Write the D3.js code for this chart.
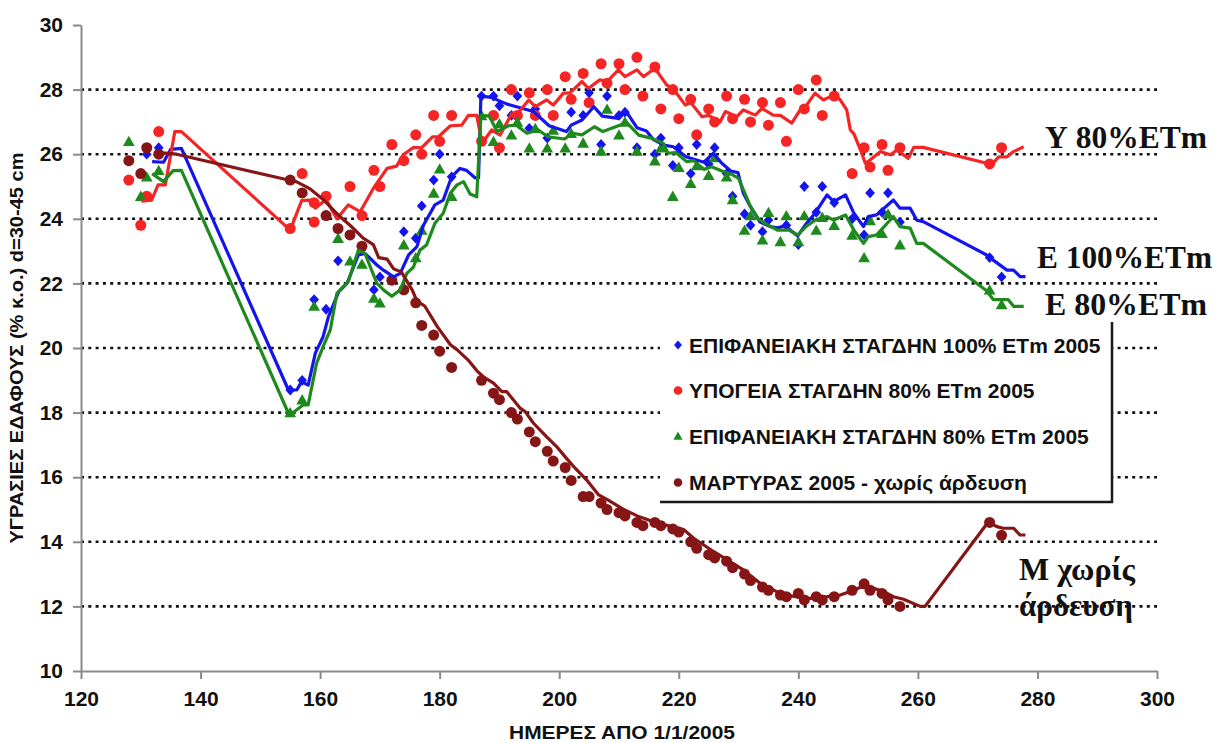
<!DOCTYPE html>
<html><head><meta charset="utf-8">
<script src="https://cdn.jsdelivr.net/npm/d3@7/dist/d3.min.js"></script>
<style>
html,body{margin:0;padding:0;background:#fff;}
svg{display:block;font-family:"Liberation Sans",Arial,sans-serif;}
</style></head><body>
<svg id="chart" width="1216" height="743"></svg>
<script>
// ---------- data ----------
const xTicks = [120,140,160,180,200,220,240,260,280,300];
const yTicks = [10,12,14,16,18,20,22,24,26,28,30];
const gridValues = [12,14,16,18,20,22,24,26,28];
const seriesNames = ["ΕΠΙΦΑΝΕΙΑΚΗ ΣΤΑΓΔΗΝ 100% ΕΤm 2005","ΥΠΟΓΕΙΑ ΣΤΑΓΔΗΝ 80% ΕΤm 2005","ΕΠΙΦΑΝΕΙΑΚΗ ΣΤΑΓΔΗΝ 80% ΕΤm 2005","ΜΑΡΤΥΡΑΣ 2005 - χωρίς άρδευση"];
const endLabels = ["Υ 80%ΕΤm","Ε 100%ΕΤm","Ε 80%ΕΤm","Μ χωρίς","άρδευση"];
const xTitle = "ΗΜΕΡΕΣ ΑΠΟ 1/1/2005";
const yTitle = "ΥΓΡΑΣΙΕΣ ΕΔΑΦΟΥΣ (% κ.ο.) d=30-45 cm";

const blueDays = [131,133,155,157,159,161,163,169,170,174,176,177,179,180,182,187,189,190,192,193,195,196,198,202,204,205,207,208,210,211,213,216,217,219,220,222,223,225,226,228,229,231,232,234,235,238,240,241,243,244,246,249,251,252,254,255,257,272,274];
const blueValues = [26.0,26.2,18.7,19.0,21.5,21.2,22.7,21.8,22.2,23.6,23.4,24.4,25.2,26.0,25.3,27.8,27.8,27.5,27.2,27.8,26.8,27.4,26.5,27.3,27.2,27.9,26.3,27.8,27.2,27.3,26.2,26.0,26.5,25.65,26.2,25.4,26.3,25.7,26.2,25.4,24.7,24.15,23.8,23.6,23.96,23.8,23.2,25.0,24.2,25.0,24.5,24.0,23.5,24.8,24.2,24.8,23.9,22.8,22.2];

const redDays = [128,130,131,133,155,157,159,159,161,165,167,169,170,172,174,176,177,179,180,182,187,189,190,192,193,195,196,198,199,201,202,204,205,207,208,210,211,213,214,216,217,219,220,222,223,225,226,228,229,231,232,234,235,237,238,240,241,243,244,246,249,251,252,254,255,257,272,274];
const redValues = [25.2,23.8,24.7,26.7,23.7,25.4,24.5,23.9,24.7,25.0,24.1,25.5,25.0,26.3,25.8,26.6,26.0,27.2,26.4,27.2,26.4,27.2,26.2,28.0,27.2,27.9,27.2,28.0,27.2,28.4,27.7,28.5,27.6,28.8,28.2,28.8,28.0,29.0,27.8,28.7,27.4,28.0,27.1,27.7,26.6,27.4,27.0,27.8,27.1,27.7,27.0,27.6,26.9,27.6,26.4,28.0,27.4,28.3,27.2,27.8,25.4,26.2,25.6,26.3,25.5,26.2,25.7,26.2];

const greenDays = [128,130,131,133,155,157,159,163,165,167,169,170,174,176,177,179,180,182,187,189,190,192,193,195,196,198,199,201,202,204,207,208,210,211,213,216,217,219,220,222,223,225,226,228,229,231,232,234,235,237,238,240,241,243,244,246,249,251,252,254,255,257,272,274];
const greenValues = [26.4,24.7,25.3,25.5,18.0,18.4,21.3,23.4,22.7,22.6,21.55,21.4,23.2,22.8,23.65,24.8,25.55,24.7,27.2,26.4,26.95,26.6,27.0,26.2,26.8,26.2,26.75,26.2,26.65,26.35,26.1,27.4,26.6,27.0,26.1,25.8,26.2,24.7,25.6,25.1,25.65,25.35,25.9,25.3,24.6,23.65,24.1,23.35,24.2,23.3,24.1,23.3,24.1,23.65,24.05,23.8,23.5,22.8,23.95,23.55,24.15,23.2,21.8,21.35];

const brownDays = [128,130,131,133,155,157,161,163,165,167,172,174,176,177,179,180,182,187,189,190,192,193,195,196,198,199,201,202,204,205,207,208,210,211,213,214,216,217,219,220,222,223,225,226,228,229,231,232,234,235,237,238,240,241,243,244,246,249,251,252,254,255,257,272,274];
const brownValues = [25.8,25.4,26.2,26.0,25.2,24.8,24.1,23.7,23.5,23.15,22.1,21.8,21.4,20.7,20.4,19.9,19.4,19.0,18.6,18.4,18.0,17.8,17.4,17.1,16.8,16.5,16.3,15.9,15.4,15.4,15.2,15.0,14.9,14.8,14.6,14.5,14.6,14.5,14.4,14.3,14.0,13.8,13.6,13.5,13.4,13.2,13.0,12.8,12.6,12.5,12.35,12.3,12.4,12.2,12.3,12.2,12.3,12.5,12.7,12.5,12.4,12.2,12.0,14.6,14.2];

// smoothed lines: [day, value]
const blueLine = [[131.9,25.77],[133.8,25.75],[135,26.15],[136.8,26.18],[154.7,18.7],[156.1,18.7],[156.9,18.96],[158,18.85],[159.2,19.84],[160.5,20.35],[161.4,20.97],[163.1,21.74],[164.5,22.0],[166.4,22.88],[167.5,22.93],[169.5,22.57],[170.6,22.41],[172.3,22.2],[173.4,22.31],[174.8,22.88],[176.2,23.14],[177.3,23.81],[179.2,24.43],[180.6,24.58],[182,25.3],[183.4,25.56],[184.5,25.5],[185.9,25.27],[186.5,25.27],[186.9,27.8],[188.6,27.76],[191.3,27.55],[194.2,27.4],[195.7,27.32],[198.3,26.88],[201.2,26.7],[202,26.9],[203.8,27.06],[205.8,27.47],[207.2,27.18],[209.9,27.11],[211.1,27.35],[213,26.82],[214.6,26.72],[215.7,26.46],[217.5,26.28],[219.1,26.23],[221.2,25.92],[224.2,25.75],[225.8,26.03],[227.2,25.72],[228.7,25.48],[229.9,25.43],[230.8,24.79],[231.9,24.4],[233.6,23.9],[235.3,23.76],[236.5,23.72],[237.8,23.78],[239.9,23.47],[241.2,23.82],[242.8,24.17],[243.7,24.43],[244.8,24.74],[245.9,24.53],[247.9,24.74],[249.3,24.17],[250.9,23.76],[251.7,24.07],[253.1,24.12],[255.9,24.58],[257,24.33],[258.7,24.33],[259.8,23.96],[260.9,23.91],[271.5,22.88],[272.6,22.72],[274.9,22.41],[276,22.41],[277.1,22.21],[278,22.21]];

const redLine = [[130.1,24.55],[131.8,24.58],[132.9,25.05],[134.1,25.05],[135.7,26.7],[136.8,26.7],[155,23.65],[156.9,24.56],[158.3,24.58],[159.2,24.33],[161,24.6],[162.8,24.0],[164.7,24.43],[166.7,24.22],[168.9,24.94],[171.2,25.56],[172.8,25.63],[173.9,25.98],[175.6,26.21],[177,26.2],[178.8,26.54],[179.8,26.54],[181.8,26.88],[183.7,26.9],[184.8,27.2],[186.2,27.2],[187.1,26.34],[188.7,26.75],[190.1,26.59],[192.1,27.27],[193,27.25],[194.9,27.68],[196,27.47],[197.9,27.68],[199,27.52],[200.7,27.89],[201.8,27.9],[203.8,28.25],[204.9,28.04],[206.8,28.3],[208,28.25],[209.9,28.61],[211,28.4],[213,28.61],[214.1,28.4],[216,28.66],[218,28.14],[219,28.04],[221.1,27.52],[222,27.6],[223.9,27.16],[225,27.2],[226.9,27.0],[227.8,27.32],[229.7,27.16],[230.8,27.37],[232.8,27.21],[233.9,27.42],[235.8,27.21],[237,27.2],[238.9,26.96],[240.3,27.37],[241,27.42],[242.8,27.89],[244.2,27.68],[245,27.75],[246.2,27.83],[247,27.68],[248.1,27.37],[248.7,26.75],[249.3,26.63],[250.4,26.13],[251.2,25.72],[252,25.82],[253.7,26.08],[255.4,25.98],[256.5,26.13],[258.4,25.87],[259.3,26.21],[260.9,26.21],[271.5,25.72],[272.4,25.67],[273.5,25.92],[274.9,25.92],[276,26.08],[277.7,26.23]];

const greenLine = [[131.9,25.4],[133.8,25.15],[135.4,25.49],[136.8,25.5],[154.7,17.98],[155.5,18.0],[157.2,18.24],[158,18.24],[159.4,19.52],[160.5,20.04],[161.7,20.56],[162.8,21.69],[163.9,21.9],[164.7,22.05],[166.4,23.03],[167.5,22.93],[169.5,22.0],[170.6,21.8],[172,21.6],[173.4,21.8],[174.5,22.31],[175.6,22.5],[176.7,23.03],[177.8,23.19],[179.2,23.86],[180.6,24.17],[181.8,24.8],[182.9,25.05],[184,25.15],[185.1,24.77],[186.2,24.68],[186.9,27.2],[188.3,27.18],[189.6,26.7],[191.5,26.88],[192.8,26.9],[194.6,26.65],[196.5,26.75],[198.1,26.54],[200.9,26.47],[202.2,26.65],[203.8,26.6],[205.9,26.85],[207.3,26.7],[209.9,26.88],[211.3,26.98],[213.3,26.59],[215.5,26.49],[217.4,26.34],[218.2,26.03],[219.5,26.05],[221.3,25.77],[222.5,25.8],[224.2,25.53],[225.5,25.61],[227.2,25.48],[228.8,25.38],[230,25.25],[231.9,24.42],[233.3,24.0],[234.5,23.85],[236.5,23.65],[238.4,23.65],[239.9,23.5],[241.3,23.76],[242.8,23.96],[244.8,24.07],[245.9,23.96],[247.9,24.12],[249.3,23.65],[250.9,23.24],[251.7,23.45],[253.1,23.5],[255.9,24.07],[257,23.76],[258.7,23.71],[259.8,23.24],[260.9,23.24],[271.5,21.77],[272.6,21.5],[275.1,21.5],[276,21.29],[277.7,21.29]];

const brownLine = [[133,26.05],[136,26.0],[154.7,25.2],[156,25.15],[157.8,24.98],[158.5,24.9],[160.5,24.6],[163.3,24.07],[165,23.8],[167.2,23.4],[168.9,23.2],[169.8,22.8],[171.2,22.75],[172.3,22.45],[173.6,22.35],[175.4,21.8],[176.2,21.45],[177.5,21.3],[179.6,20.66],[181.8,20.1],[182.9,19.95],[184.9,19.6],[186.2,19.3],[187.3,19.11],[189,18.91],[190.4,18.65],[191.2,18.65],[193.5,18.13],[194.3,18.03],[195.7,17.67],[197.9,17.25],[199.6,16.94],[201,16.63],[202.7,16.27],[204.6,15.91],[206.6,15.45],[208.2,15.29],[210.7,15.01],[213.3,14.78],[215.8,14.62],[218.8,14.47],[220.8,14.38],[222.5,14.11],[225.8,13.7],[228.1,13.44],[230.8,13.13],[233.6,12.72],[235.8,12.51],[237.5,12.35],[239.8,12.3],[242,12.25],[244.8,12.3],[247,12.35],[248.7,12.46],[250.6,12.61],[252.6,12.56],[254.3,12.46],[255.9,12.3],[257.6,12.22],[260.4,12.0],[261.2,12.0],[271.8,14.62],[273.2,14.47],[274.3,14.42],[276,14.42],[277.1,14.21],[278,14.21]];

// ---------- layout / style ----------
const plot = {left: 81, right: 1157, top: 25, bottom: 671};
const colors = {blue: "#1414EE", red: "#F52525", green: "#1E8A1E", brown: "#861515"};
const axisColor = "#8a8a8a";

const svg = d3.select("#chart");
const x = d3.scaleLinear().domain([120, 300]).range([plot.left, plot.right]);
const y = d3.scaleLinear().domain([10, 30]).range([plot.bottom, plot.top]);

// gridlines
svg.append("g").selectAll("line").data(gridValues).join("line")
  .attr("x1", x(120)).attr("x2", x(300))
  .attr("y1", d => y(d)).attr("y2", d => y(d))
  .attr("stroke", "#111").attr("stroke-width", 2.6)
  .attr("stroke-dasharray", "3,4.3");

// axes
const xAxis = svg.append("g").attr("transform", `translate(0,${plot.bottom})`)
  .call(d3.axisBottom(x).tickValues(xTicks).tickSize(8).tickSizeOuter(0).tickPadding(12).tickFormat(d3.format("d")));
const yAxis = svg.append("g").attr("transform", `translate(${plot.left},0)`)
  .call(d3.axisLeft(y).tickValues(yTicks).tickSize(8).tickSizeOuter(0).tickPadding(10).tickFormat(d3.format("d")));
[xAxis, yAxis].forEach(g => {
  g.select(".domain").attr("stroke", axisColor).attr("stroke-width", 2);
  g.selectAll(".tick line").attr("stroke", axisColor).attr("stroke-width", 2);
  g.selectAll(".tick text").attr("fill", "#111").attr("font-size", 21).attr("font-weight", "bold")
    .attr("font-family", "'Liberation Sans', Arial, sans-serif");
});

// axis titles
svg.append("text").attr("x", (plot.left + plot.right) / 2 + 3).attr("y", 739)
  .attr("text-anchor", "middle").attr("font-size", 19).attr("font-weight", "bold").attr("fill", "#111")
  .attr("textLength", 226).attr("lengthAdjust", "spacingAndGlyphs").text(xTitle);
svg.append("text").attr("transform", "translate(23,348) rotate(-90)")
  .attr("text-anchor", "middle").attr("font-size", 19).attr("font-weight", "bold").attr("fill", "#111")
  .attr("textLength", 391).attr("lengthAdjust", "spacingAndGlyphs").text(yTitle);

// marker shapes
const shapes = {
  diamond: s => `M0,${-s}L${s*0.9},0L0,${s}L${-s*0.9},0Z`,
  triangle: s => `M0,${-s}L${s*1.05},${s*0.85}L${-s*1.05},${s*0.85}Z`
};

function drawMarkers(days, values, kind, color, size) {
  const data = days.map((d, i) => [d, values[i]]);
  const g = svg.append("g");
  if (kind === "circle") {
    g.selectAll("circle").data(data).join("circle")
      .attr("cx", d => x(d[0])).attr("cy", d => y(d[1])).attr("r", size).attr("fill", color);
  } else {
    g.selectAll("path").data(data).join("path")
      .attr("transform", d => `translate(${x(d[0])},${y(d[1])})`)
      .attr("d", shapes[kind](size)).attr("fill", color);
  }
}
const line = d3.line().x(d => x(d[0])).y(d => y(d[1]));
function drawLine(pts, color) {
  svg.append("path").datum(pts).attr("d", line).attr("fill", "none")
    .attr("stroke", color).attr("stroke-width", 3.2).attr("stroke-linejoin", "round");
}

drawMarkers(blueDays, blueValues, "diamond", colors.blue, 5.4);
drawMarkers(redDays, redValues, "circle", colors.red, 5.5);
drawMarkers(greenDays, greenValues, "triangle", colors.green, 5.6);
drawMarkers(brownDays, brownValues, "circle", colors.brown, 5.5);
drawLine(blueLine, colors.blue);
drawLine(redLine, colors.red);
drawLine(greenLine, colors.green);
drawLine(brownLine, colors.brown);

// legend
const leg = {x0: 660, y0: 322, x1: 1112, y1: 502};
const lg = svg.append("g");
lg.append("rect").attr("x", leg.x0).attr("y", leg.y0).attr("width", leg.x1 - leg.x0).attr("height", leg.y1 - leg.y0).attr("fill", "#fff");
lg.append("path").attr("d", `M${leg.x1},${leg.y0}L${leg.x1},${leg.y1}L${leg.x0},${leg.y1}`)
  .attr("fill", "none").attr("stroke", "#1a1a1a").attr("stroke-width", 2.5);
const legRows = [345, 390.5, 436, 482.5];
const legKinds = [["diamond", colors.blue], ["circle", colors.red], ["triangle", colors.green], ["circle", colors.brown]];
seriesNames.forEach((name, i) => {
  const [kind, col] = legKinds[i];
  const cy = legRows[i];
  if (kind === "circle") lg.append("circle").attr("cx", 678).attr("cy", cy).attr("r", 4.3).attr("fill", col);
  else lg.append("path").attr("transform", `translate(678,${cy})`).attr("d", shapes[kind](4.4)).attr("fill", col);
  lg.append("text").attr("x", 689).attr("y", cy + 7.5).attr("font-size", 21).attr("font-weight", "bold")
    .attr("fill", "#111").text(name);
});

// end labels
const endPos = [[1045, 148, 162], [1037, 268, 175], [1045, 315, 162], [1019, 580, 116], [1019, 616, 114]];
endLabels.forEach((t, i) => {
  svg.append("text").attr("x", endPos[i][0]).attr("y", endPos[i][1])
    .attr("font-family", "'Liberation Serif','Times New Roman',serif").attr("font-weight", "bold")
    .attr("font-size", 31).attr("fill", "#111")
    .attr("textLength", endPos[i][2]).attr("lengthAdjust", "spacingAndGlyphs").text(t);
});
</script>
</body></html>
